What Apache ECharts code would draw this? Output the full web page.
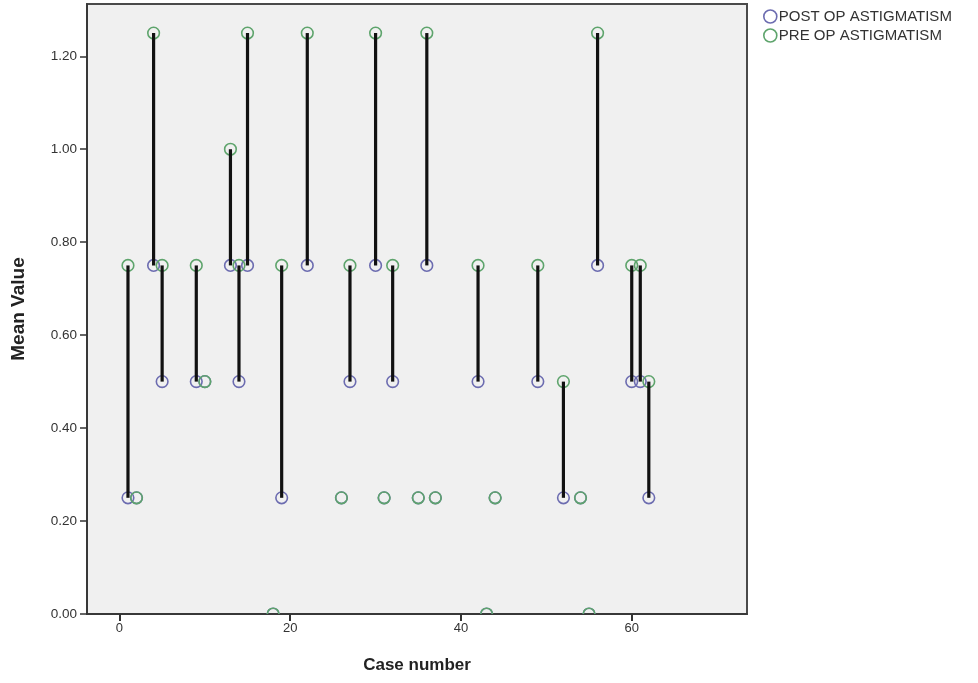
<!DOCTYPE html>
<html>
<head>
<meta charset="utf-8">
<script src="https://cdn.jsdelivr.net/npm/echarts@6/dist/echarts.min.js"></script>
<style>
html,body{margin:0;padding:0;background:#fff;}
#chart{width:978px;height:683px;}
</style>
</head>
<body>
<div id="chart"></div>
<script>
// Data
const caseNumbers = [1, 2, 4, 5, 9, 10, 13, 14, 15, 18, 19, 22, 26, 27, 30, 31, 32, 35, 36, 37, 42, 43, 44, 49, 52, 54, 55, 56, 60, 61, 62];
const preOp  = [0.75, 0.25, 1.25, 0.75, 0.75, 0.50, 1.00, 0.75, 1.25, 0.00, 0.75, 1.25, 0.25, 0.75, 1.25, 0.25, 0.75, 0.25, 1.25, 0.25, 0.75, 0.00, 0.25, 0.75, 0.50, 0.25, 0.00, 1.25, 0.75, 0.75, 0.50];
const postOp = [0.25, 0.25, 0.75, 0.50, 0.50, 0.50, 0.75, 0.50, 0.75, 0.00, 0.25, 0.75, 0.25, 0.50, 0.75, 0.25, 0.50, 0.25, 0.75, 0.25, 0.50, 0.00, 0.25, 0.50, 0.25, 0.25, 0.00, 0.75, 0.50, 0.50, 0.25];
const xTickValues = [0, 20, 40, 60];
const seriesNames = ['POST OP ASTIGMATISM', 'PRE OP ASTIGMATISM'];

const postColor = '#6c6cb0';
const preColor = '#5ea46c';

const chart = echarts.init(document.getElementById('chart'));

function clipRect(params) {
  const cs = params.coordSys;
  return { type: 'rect', shape: { x: cs.x, y: cs.y, width: cs.width, height: cs.height } };
}

function circleRenderer(color) {
  return function (params, api) {
    const p = api.coord([api.value(0), api.value(1)]);
    return {
      type: 'circle',
      shape: { cx: p[0], cy: p[1], r: 5.8 },
      style: { fill: 'rgba(0,0,0,0)', stroke: color, lineWidth: 1.6 },
      clipPath: clipRect(params)
    };
  };
}

const dropData = caseNumbers.map((c, i) => [c, preOp[i], postOp[i]]);

const option = {
  backgroundColor: '#ffffff',
  animation: false,
  textStyle: { fontFamily: 'Liberation Sans, Arial, sans-serif' },
  grid: {
    left: 87, right: 231, top: 4, bottom: 69,
    show: true, backgroundColor: '#f0f0f0', borderColor: '#4a4a4a', borderWidth: 2,
    containLabel: false
  },
  legend: {
    orient: 'vertical',
    left: 758, top: 4,
    itemGap: 4,
    itemWidth: 13, itemHeight: 13,
    textStyle: { fontSize: 15, color: '#333', fontFamily: 'Liberation Sans, Arial, sans-serif', padding: [0, 0, 0, -3] },
    data: [
      { name: seriesNames[0], icon: 'circle', itemStyle: { color: 'rgba(0,0,0,0)', borderColor: postColor, borderWidth: 1.6 } },
      { name: seriesNames[1], icon: 'circle', itemStyle: { color: 'rgba(0,0,0,0)', borderColor: preColor, borderWidth: 1.6 } }
    ]
  },
  xAxis: {
    type: 'value',
    min: -3.8, max: 73.5,
    name: 'Case number',
    nameLocation: 'middle',
    nameGap: 43,
    nameTextStyle: { fontSize: 17, fontWeight: 'bold', color: '#222' },
    axisLine: { show: true, onZero: false, lineStyle: { color: '#333', width: 1.5 } },
    axisTick: { show: true, inside: false, length: 7, customValues: xTickValues, lineStyle: { color: '#333', width: 2 } },
    axisLabel: { customValues: xTickValues, fontSize: 13, color: '#333', margin: 8, showMinLabel: true, showMaxLabel: true },
    splitLine: { show: false }
  },
  yAxis: {
    type: 'value',
    min: 0, max: 1.3125, interval: 0.2,
    name: 'Mean Value',
    nameLocation: 'middle',
    nameGap: 59,
    nameTextStyle: { fontSize: 19, fontWeight: 'bold', color: '#222' },
    axisLine: { show: true, onZero: false, lineStyle: { color: '#333', width: 1.5 } },
    axisTick: { show: true, inside: false, length: 7, lineStyle: { color: '#333', width: 1.5 } },
    axisLabel: { fontSize: 13.5, color: '#333', margin: 10, formatter: v => v.toFixed(2), showMaxLabel: false },
    splitLine: { show: false }
  },
  series: [
    {
      name: seriesNames[0],
      type: 'custom',
      clip: true,
      itemStyle: { color: postColor },
      data: caseNumbers.map((c, i) => [c, postOp[i]]),
      renderItem: circleRenderer(postColor),
      z: 2
    },
    {
      name: seriesNames[1],
      type: 'custom',
      clip: true,
      itemStyle: { color: preColor },
      data: caseNumbers.map((c, i) => [c, preOp[i]]),
      renderItem: circleRenderer(preColor),
      z: 3
    },
    {
      name: 'drop',
      type: 'custom',
      clip: true,
      data: dropData,
      renderItem: function (params, api) {
        const a = api.coord([api.value(0), api.value(1)]);
        const b = api.coord([api.value(0), api.value(2)]);
        if (Math.abs(a[1] - b[1]) < 0.5) return null;
        return {
          type: 'line',
          shape: { x1: a[0], y1: a[1], x2: b[0], y2: b[1] },
          style: { stroke: '#111', lineWidth: 3.2 }
        };
      },
      z: 4
    }
  ]
};
chart.setOption(option);
</script>
</body>
</html>
